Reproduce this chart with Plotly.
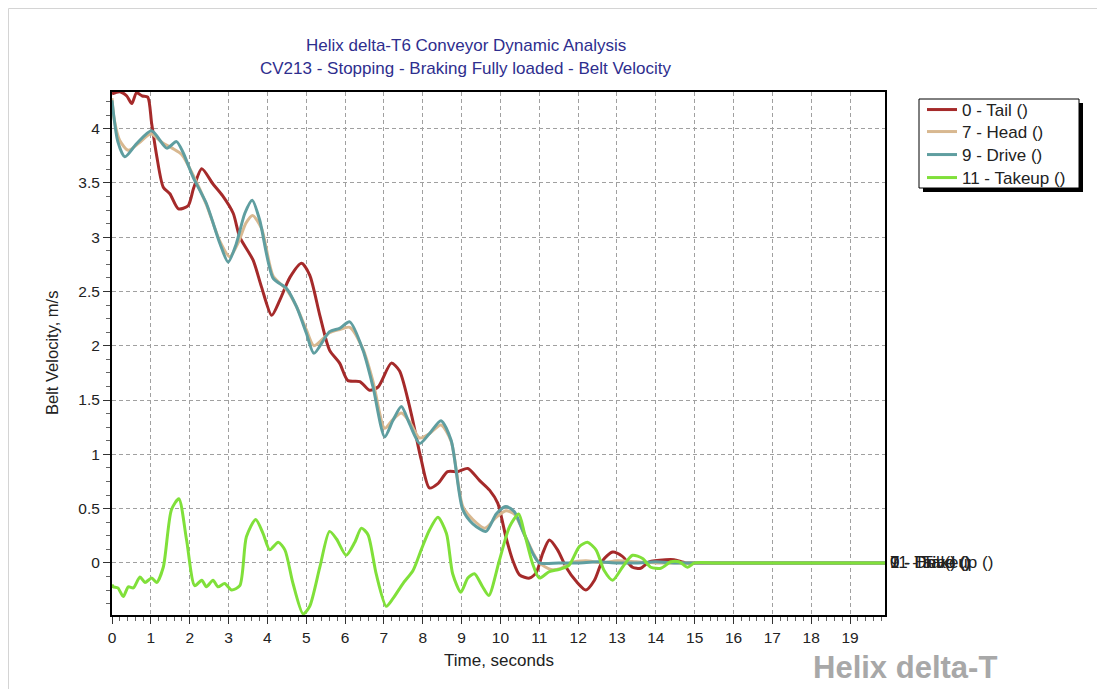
import plotly.graph_objects as go

# ---- data ----
series_names = ["0 - Tail ()", "7 - Head ()", "9 - Drive ()", "11 - Takeup ()"]
series_colors = ["#a52a2a", "#d8b890", "#5f9ea0", "#80e03a"]

# after ~15 s every series rests at 0 m/s
rest_t = [15.5, 16.0, 16.5, 17.0, 17.5, 18.0, 18.5, 19.0, 19.5, 19.9]
rest_v = [0.0, 0.0, 0.0, 0.0, 0.0, 0.0, 0.0, 0.0, 0.0, 0.0]

tail_t = [0, 0.2, 0.38, 0.51, 0.63, 0.78, 0.92, 1.02, 1.15, 1.32,
          1.49, 1.71, 1.96, 2.1, 2.31, 2.6, 2.85, 3.12, 3.29, 3.63,
          3.85, 4.11, 4.32, 4.58, 4.88, 5.09, 5.35, 5.6, 5.86, 6.07,
          6.38, 6.63, 6.85, 7.19, 7.4, 7.7, 7.96, 8.17, 8.39, 8.64,
          8.9, 9.16, 9.46, 9.72, 9.93, 10.14, 10.32, 10.49, 10.75, 10.92,
          11.09, 11.26, 11.47, 11.69, 11.95, 12.2, 12.42, 12.63, 12.89, 13.14,
          13.4, 13.61, 13.83, 14.25, 14.47, 14.77, 15.0]
tail_v = [4.32, 4.34, 4.30, 4.23, 4.33, 4.30, 4.29, 4.05, 3.75, 3.46,
          3.40, 3.26, 3.29, 3.45, 3.63, 3.49, 3.38, 3.22, 3.00, 2.79,
          2.54, 2.28, 2.42, 2.63, 2.76, 2.65, 2.28, 1.96, 1.84, 1.68,
          1.67, 1.59, 1.62, 1.84, 1.77, 1.38, 0.95, 0.69, 0.73, 0.84,
          0.84, 0.87, 0.76, 0.67, 0.55, 0.24, 0.02, -0.11, -0.14, -0.09,
          0.09, 0.21, 0.12, -0.04, -0.17, -0.25, -0.16, 0.02, 0.10, 0.06,
          -0.04, -0.05, 0.01, 0.03, 0.03, 0.0, 0.0]

head_t = [0, 0.05, 0.2, 0.42, 0.7, 1.0, 1.3, 1.55, 1.8, 2.09,
          2.43, 2.78, 3.03, 3.25, 3.45, 3.62, 3.85, 4.15, 4.49, 4.75,
          5.0, 5.2, 5.6, 5.86, 6.12, 6.46, 6.72, 7.02, 7.23, 7.45,
          7.66, 7.92, 8.17, 8.47, 8.73, 9.03, 9.29, 9.6, 9.89, 10.14,
          10.36, 10.57, 10.83, 11.0, 11.3, 11.55, 11.8, 12.2, 12.6, 13.0,
          13.5, 14.0, 14.5, 15.0]
head_v = [4.28, 4.1, 3.89, 3.80, 3.87, 3.95, 3.87, 3.82, 3.76, 3.57,
          3.30, 2.96, 2.82, 2.95, 3.13, 3.20, 3.08, 2.64, 2.52, 2.36,
          2.15, 2.00, 2.12, 2.15, 2.17, 1.97, 1.67, 1.24, 1.32, 1.38,
          1.30, 1.15, 1.19, 1.27, 1.12, 0.52, 0.40, 0.32, 0.42, 0.48,
          0.45, 0.30, 0.10, 0.0, -0.06, -0.05, 0.0, 0.02, 0.0, 0.02,
          0.01, 0.0, 0.0, 0.0]

drive_t = [0, 0.15, 0.33, 0.63, 1.02, 1.41, 1.66, 1.83, 2.09,
           2.43, 2.78, 2.99, 3.2, 3.42, 3.61, 3.8, 4.15, 4.49, 4.75,
           5.0, 5.2, 5.6, 5.86, 6.12, 6.46, 6.72, 7.02, 7.23, 7.45,
           7.66, 7.92, 8.17, 8.47, 8.73, 9.03, 9.29, 9.63, 9.89, 10.14,
           10.36, 10.57, 10.83, 11.0, 11.5, 12.0, 12.5, 13.0, 13.5, 14.0,
           14.5, 15.0]
drive_v = [4.26, 3.88, 3.74, 3.86, 3.98, 3.82, 3.88, 3.78, 3.55,
           3.31, 2.94, 2.77, 2.94, 3.22, 3.34, 3.16, 2.62, 2.53, 2.36,
           2.12, 1.93, 2.13, 2.16, 2.22, 1.96, 1.62, 1.16, 1.31, 1.44,
           1.28, 1.10, 1.19, 1.31, 1.13, 0.49, 0.36, 0.29, 0.45, 0.52,
           0.47, 0.30, 0.09, 0.0, 0.0, 0.0, 0.01, 0.0, 0.0, 0.01,
           0.0, 0.0]

takeup_t = [0, 0.03, 0.15, 0.29, 0.42, 0.55, 0.72, 0.85, 1.02, 1.15,
            1.32, 1.53, 1.72, 1.92, 2.13, 2.31, 2.43, 2.6, 2.73, 2.9,
            3.08, 3.29, 3.46, 3.7, 3.89, 4.06, 4.28, 4.45, 4.66, 4.92,
            5.09, 5.35, 5.6, 5.78, 6.03, 6.25, 6.42, 6.59, 6.8, 7.06,
            7.23, 7.49, 7.75, 7.96, 8.17, 8.39, 8.61, 8.77, 8.98, 9.16,
            9.33, 9.54, 9.7, 9.97, 10.23, 10.47, 10.62, 10.83, 11.0, 11.26,
            11.52, 11.77, 12.03, 12.24, 12.46, 12.67, 12.89, 13.14, 13.4, 13.66,
            13.87, 14.13, 14.39, 14.6, 14.82, 15.0]
takeup_v = [-0.2, -0.22, -0.23, -0.31, -0.22, -0.23, -0.13, -0.18, -0.14, -0.18,
            -0.04, 0.49, 0.59, 0.21, -0.21, -0.16, -0.22, -0.16, -0.22, -0.19,
            -0.25, -0.21, 0.24, 0.40, 0.27, 0.12, 0.19, 0.12, -0.19, -0.47,
            -0.40, -0.04, 0.29, 0.22, 0.07, 0.19, 0.32, 0.26, -0.10, -0.40,
            -0.33, -0.19, -0.07, 0.12, 0.30, 0.42, 0.27, -0.10, -0.27, -0.14,
            -0.10, -0.22, -0.30, 0.02, 0.33, 0.45, 0.27, -0.01, -0.14, -0.08,
            -0.06, -0.02, 0.15, 0.19, 0.12, -0.07, -0.16, -0.04, 0.07, 0.04,
            -0.04, -0.05, 0.01, 0.01, -0.04, 0.0]

x_tick_vals = list(range(0, 20))
y_tick_vals = [0, 0.5, 1, 1.5, 2, 2.5, 3, 3.5, 4]
y_tick_text = ["0", "0.5", "1", "1.5", "2", "2.5", "3", "3.5", "4"]

title_line1 = "Helix delta-T6 Conveyor Dynamic Analysis"
title_line2 = "CV213 - Stopping - Braking Fully loaded - Belt Velocity"
x_title = "Time, seconds"
y_title = "Belt Velocity, m/s"
watermark = "Helix delta-T"

# ---- layout geometry ----
# page has an 8px body margin, so the figure is drawn 8px smaller and
# positions below are given in screenshot pixels (offset compensated).
OFF = 8
W, H = 1105 - OFF, 689 - OFF
L, R, T, B = 112, 885, 92, 615          # plot area in screenshot pixels
PW, PH = R - L, B - T


def px(x):
    return (x - L) / PW


def py(y):
    return (B - y) / PH


FONT = "Liberation Sans, Arial, sans-serif"
TXT = "#222222"

fig = go.Figure()
all_series = [(tail_t + rest_t, tail_v + rest_v),
              (head_t + rest_t, head_v + rest_v),
              (drive_t + rest_t, drive_v + rest_v),
              (takeup_t + rest_t, takeup_v + rest_v)]
legend_ids = ["legend", "legend2", "legend3", "legend4"]
for (tt, vv), name, col, lid in zip(all_series, series_names, series_colors, legend_ids):
    fig.add_trace(go.Scatter(x=tt, y=vv, mode="lines", name=name, legend=lid,
                             line=dict(color=col, width=3, shape="spline", smoothing=0.7)))

annotations = [
    dict(text=title_line1, x=px(466), y=py(46), xref="paper", yref="paper",
         showarrow=False, xanchor="center", yanchor="middle",
         font=dict(family=FONT, size=17, color="#2e2e8e")),
    dict(text=title_line2, x=px(466), y=py(69), xref="paper", yref="paper",
         showarrow=False, xanchor="center", yanchor="middle",
         font=dict(family=FONT, size=17, color="#2e2e8e")),
    dict(text=x_title, x=px(499), y=py(660), xref="paper", yref="paper",
         showarrow=False, xanchor="center", yanchor="middle",
         font=dict(family=FONT, size=17, color=TXT)),
    dict(text=y_title, x=px(52), y=py(353), xref="paper", yref="paper",
         showarrow=False, xanchor="center", yanchor="middle", textangle=-90,
         font=dict(family=FONT, size=16.5, color=TXT)),
    dict(text="<b>" + watermark + "</b>", x=px(905), y=py(667), xref="paper", yref="paper",
         showarrow=False, xanchor="center", yanchor="middle",
         font=dict(family=FONT, size=31, color="#a8a8a8")),
]
for (tt, vv), name in zip(all_series, series_names):
    annotations.append(dict(text=name, x=tt[-1], y=vv[-1], xref="x", yref="y",
                            showarrow=False, xanchor="left", yanchor="middle", xshift=3,
                            font=dict(family=FONT, size=17, color=TXT)))

shapes = [
    # outer light frame
    dict(type="line", xref="paper", yref="paper", x0=px(8.5), x1=px(1105), y0=py(8.5), y1=py(8.5),
         line=dict(color="#d4d4d4", width=1)),
    dict(type="line", xref="paper", yref="paper", x0=px(8.5), x1=px(8.5), y0=py(8.5), y1=py(689),
         line=dict(color="#d4d4d4", width=1)),
    # legend shadow and box
    dict(type="rect", xref="paper", yref="paper", x0=px(923), x1=px(1083), y0=py(103), y1=py(192),
         fillcolor="black", line=dict(width=0)),
    dict(type="rect", xref="paper", yref="paper", x0=px(919), x1=px(1079), y0=py(99), y1=py(188),
         fillcolor="white", line=dict(color="black", width=1)),
]

legend_rows = [110, 132, 155, 178]
legend_layout = {}
for lid, row in zip(legend_ids, legend_rows):
    legend_layout[lid] = dict(x=px(922), y=py(row), xanchor="left", yanchor="middle",
                              bgcolor="rgba(0,0,0,0)", borderwidth=0,
                              font=dict(family=FONT, size=17, color=TXT),
                              itemwidth=30)

fig.update_layout(
    width=W, height=H,
    margin=dict(l=L - OFF, r=W - (R - OFF), t=T - OFF, b=H - (B - OFF)),
    paper_bgcolor="white", plot_bgcolor="white",
    font=dict(family=FONT, size=15, color=TXT),
    showlegend=True,
    annotations=annotations,
    shapes=shapes,
    **legend_layout,
)

fig.update_xaxes(range=[0, 19.9], tickvals=x_tick_vals, ticktext=[str(v) for v in x_tick_vals],
                 showline=True, linecolor="black", linewidth=2, mirror=True,
                 ticks="outside", ticklen=7, tickcolor="#333",
                 minor=dict(dtick=0.2, ticks="outside", ticklen=4, tickcolor="#666", showgrid=False),
                 showgrid=True, gridcolor="#a0a0a0", gridwidth=1, griddash="4px,3px",
                 zeroline=False, tickfont=dict(family=FONT, size=15.5, color=TXT))
fig.update_yaxes(range=[-0.48, 4.337], tickvals=y_tick_vals, ticktext=y_tick_text,
                 showline=True, linecolor="black", linewidth=2, mirror=True,
                 ticks="outside", ticklen=7, tickcolor="#333",
                 minor=dict(dtick=0.125, ticks="outside", ticklen=4, tickcolor="#666", showgrid=False),
                 showgrid=True, gridcolor="#a0a0a0", gridwidth=1, griddash="4px,3px",
                 zeroline=False, tickfont=dict(family=FONT, size=15.5, color=TXT))

fig.write_html("out.html")
